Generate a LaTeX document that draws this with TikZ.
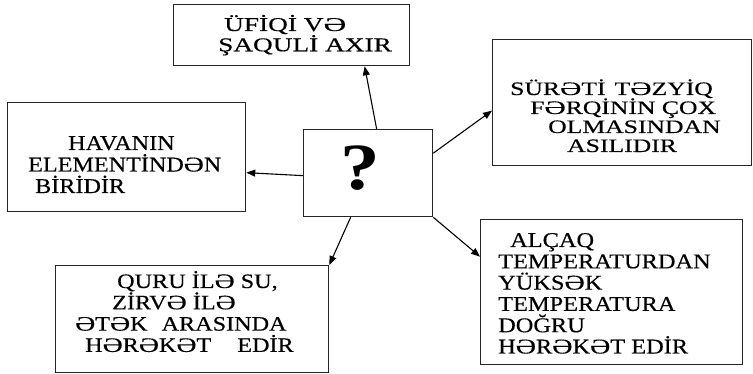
\documentclass[tikz,border=0pt]{standalone}
\usepackage{fontspec}
\usepackage{graphicx}
\setmainfont{Liberation Serif}
\newfontfamily\fLeft[FakeStretch=1.15,FakeBold=0.4]{Liberation Serif}
\newfontfamily\fBR[FakeStretch=1.16,FakeBold=0.4]{Liberation Serif}
\newfontfamily\fBL[FakeStretch=1.18,FakeBold=0.4]{Liberation Serif}
\newfontfamily\fRT[FakeStretch=1.35,FakeBold=0.4]{Liberation Serif}
\newfontfamily\fTop[FakeStretch=1.40,FakeBold=0.4]{Liberation Serif}
\newfontfamily\fQ[FakeStretch=1.2]{Liberation Serif}
\newcommand\Sw{\scalebox{1.15}[1]{Ə}}
\usetikzlibrary{arrows.meta,calc}
\tikzset{
  box/.style={draw=black!85, line width=1.3pt, inner sep=0pt, anchor=north west},
  txt/.style={inner sep=0pt, anchor=base west},
  conn/.style={line width=1.1pt, -{Triangle[length=9pt,width=7pt]}},
}
\begin{document}
\begin{tikzpicture}[x=1pt,y=-1pt]
\useasboundingbox (0,0) rectangle (753,374);
% boxes
\node[box, minimum width=236pt, minimum height=61pt] (top) at (173,4) {};
\node[box, minimum width=238pt, minimum height=109pt] (left) at (7,102) {};
\node[box, minimum width=129pt, minimum height=87pt] (c) at (303,129) {};
\node[box, minimum width=259pt, minimum height=126pt] (rt) at (492,39) {};
\node[box, minimum width=273pt, minimum height=107pt] (bl) at (55,265) {};
\node[box, minimum width=262pt, minimum height=145pt] (br) at (480,219) {};
% texts
\node[txt] (ttop) at (218,31) {\fTop\fontsize{19.5}{18}\selectfont\vtop{\baselineskip=18.5pt
  \hbox{\kern6pt ÜFİQİ V\Sw}\hbox{ŞAQULİ AXIR}}};
\node[txt] (tleft) at (28,150) {\fLeft\fontsize{21}{21.5}\selectfont\vtop{\baselineskip=21.5pt
  \hbox{\kern40pt HAVANIN}\hbox{ELEMENTİND\Sw N}\hbox{\kern7pt BİRİDİR}}};
\node[anchor=base, inner sep=0pt] (q) at (360.5,190) {\fQ\fontsize{66}{66}\selectfont\bfseries ?};
\node[txt] (trt) at (510,95) {\fRT\fontsize{19}{19}\selectfont\vtop{\baselineskip=19pt
  \hbox{SÜR\Sw Tİ\hspace{9pt}T\Sw ZYİQ}\hbox{\kern20pt F\Sw RQİNİN ÇOX}\hbox{\kern38pt OLMASINDAN}\hbox{\kern57pt ASILIDIR}}};
\node[txt] (tbl) at (75,288) {\fBL\fontsize{20.5}{21}\selectfont\vtop{\baselineskip=21.3pt
  \hbox{\kern42pt QURU İL\Sw\ SU,}\hbox{\kern37pt ZİRV\Sw\ İL\Sw}\hbox{\Sw T\Sw K\hspace{14pt}ARASINDA}\hbox{\kern10pt H\Sw R\Sw K\Sw T\hspace{26pt}EDİR}}};
\node[txt] (tbr) at (498,247) {\fBR\fontsize{21}{21.3}\selectfont\vtop{\baselineskip=21.3pt
  \hbox{\kern12pt ALÇAQ}\hbox{TEMPERATURDAN}\hbox{YÜKS\Sw K}\hbox{TEMPERATURA}\hbox{DOĞRU}\hbox{H\Sw R\Sw K\Sw T EDİR}}};
% connectors
\draw[conn] ($(c.north)+(8.5,0)$) -- ($(top.south)+(73,0)$);
\draw[conn] ($(c.west)+(0,2.5)$) -- ($(left.east)+(0,15.5)$);
\draw[conn] ($(c.east)+(0,-20)$) -- ($(rt.west)+(0,8)$);
\draw[conn] ($(c.south)+(-17.5,0)$) -- (bl.north east);
\draw[conn] (c.south east) -- ($(br.west)+(0,-35.5)$);
\end{tikzpicture}
\end{document}
